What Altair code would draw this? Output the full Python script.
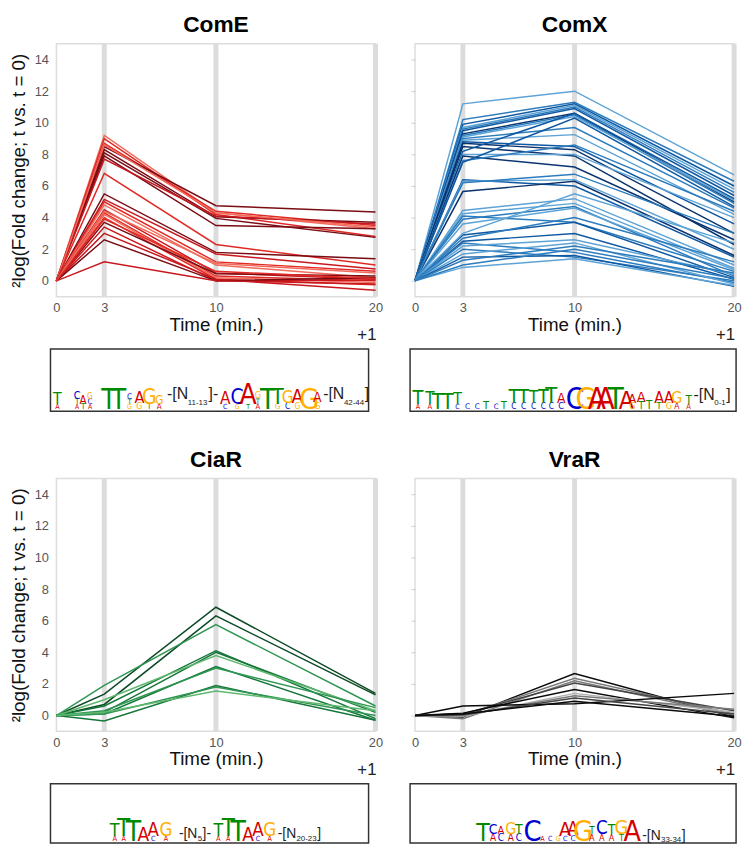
import altair as alt
import pandas as pd

FONT = "Liberation Sans"
LOGO_FONT = "Liberation Sans Narrow, DejaVu Sans Condensed, Liberation Sans"

# ---------------- data ----------------
times = [0, 3, 10, 20]
bar_times = [3, 10, 20]
x_ticks = [0, 3, 10, 20]
y_ticks = [0, 2, 4, 6, 8, 10, 12, 14]
y_title = "²log(Fold change; t vs. t = 0)"

# ComE
come_t3 = [9.2, 9.0, 8.7, 8.5, 8.3, 8.1, 7.9, 7.7, 8.6, 6.8, 5.5, 5.15, 5.0, 4.8, 4.5, 4.3, 4.2, 4.0, 3.7, 3.4, 3.0, 2.6, 1.2, 4.4, 3.9]
come_t10 = [4.3, 4.2, 4.4, 4.75, 4.05, 3.95, 3.5, 4.1, 4.3, 2.3, 1.8, 1.7, 1.2, 1.0, 0.5, 0.3, 0.2, 0.1, 0.45, 0.0, 0.1, 0.0, 0.0, 1.1, 0.6]
come_t20 = [3.3, 2.8, 3.5, 4.35, 3.7, 2.75, 3.3, 3.6, 3.4, 1.0, 1.4, 0.75, 0.6, 0.2, 0.1, 0.0, -0.1, -0.25, 0.3, 0.05, -0.6, 0.2, -0.2, 0.5, 0.15]
come_shade = [0, 1, 1, 3, 3, 3, 3, 2, 0, 1, 3, 2, 1, 0, 2, 1, 0, 1, 3, 2, 2, 3, 2, 0, 1]

# ComX
comx_t3 = [11.2, 10.2, 9.9, 9.7, 9.6, 9.5, 9.3, 9.2, 9.1, 9.0, 8.9, 8.8, 8.7, 8.5, 8.2, 8.0, 7.9, 7.6, 7.5, 6.4,
           6.3, 5.65, 6.2, 4.45, 4.25, 4.1, 3.9, 3.6, 2.9, 2.5, 2.4, 2.2, 2.0, 1.7, 1.5, 1.3, 0.85, 1.0, 3.0, 2.7]
comx_t10 = [12.0, 11.3, 11.2, 11.1, 11.0, 10.9, 10.6, 10.5, 10.4, 9.7, 9.25, 8.5, 8.3, 7.9, 10.6, 8.0, 7.2, 8.6, 10.3, 6.0,
            6.4, 6.3, 6.75, 5.2, 4.9, 3.7, 4.7, 4.6, 3.7, 3.0, 1.8, 2.6, 1.5, 2.4, 1.6, 2.2, 1.4, 2.0, 5.5, 4.0]
comx_t20 = [6.7, 6.3, 6.0, 5.8, 5.6, 5.4, 5.0, 4.9, 5.1, 4.6, 4.2, 3.6, 3.0, 2.3, 5.2, 4.0, 2.6, 4.4, 4.7, 1.5,
            2.0, 1.6, 3.0, 1.0, 0.8, 0.6, 0.3, 0.7, 0.2, 0.1, -0.1, 0.4, 0.0, -0.2, -0.35, 0.5, -0.3, 0.15, 2.4, 1.2]
comx_shade = [0, 1, 2, 0, 1, 2, 3, 1, 0, 1, 0, 2, 3, 3, 2, 0, 3, 1, 2, 2,
              0, 3, 1, 0, 0, 1, 1, 0, 2, 2, 1, 0, 1, 0, 2, 1, 0, 1, 0, 1]

# CiaR
ciar_t3 = [1.35, 0.7, 1.9, 0.6, 0.2, 1.0, 0.1, 0.3, -0.35, 0.1, 0.2]
ciar_t10 = [6.85, 6.3, 5.75, 4.1, 4.0, 3.8, 3.1, 3.0, 1.9, 1.8, 1.55]
ciar_t20 = [1.4, 1.3, 0.6, -0.2, 0.2, 0.3, -0.3, 0.5, -0.3, 0.0, 0.3]
ciar_shade = [3, 3, 1, 2, 2, 0, 2, 1, 2, 1, 0]

# VraR
vrar_t3 = [-0.1, 0.0, -0.2, 0.1, 0.15, -0.05, 0.0, 0.6, 0.05, 0.1]
vrar_t10 = [2.65, 2.35, 2.2, 2.05, 1.65, 1.4, 1.25, 0.75, 1.1, 0.9]
vrar_t20 = [-0.1, 0.1, 0.0, 0.3, -0.15, 0.2, 0.4, 1.4, 0.1, -0.05]
vrar_shade = [3, 1, 1, 2, 3, 0, 1, 3, 2, 3]

red_pal = ["#f26b5b", "#e02a25", "#c8181d", "#7a0c14"]
blue_pal = ["#5da3d6", "#2b7bbd", "#0f58a2", "#0b346e"]
green_pal = ["#5fb86f", "#2f9552", "#15763a", "#0b4a24"]
gray_pal = ["#b0b0b0", "#7a7a7a", "#444444", "#0a0a0a"]

letter_colors = {"A": "#d40000", "C": "#0000d0", "G": "#ffb000", "T": "#008a00"}

# Sequence logos: column position (px from box left), letter (bottom to top), information height (px)
come_col = [7, 7, 27, 27, 27, 33, 33, 40, 40, 40, 59, 69, 80, 80, 80, 90, 90, 100, 100, 110, 110,
            177, 177, 189, 189, 200, 200, 210, 210, 210, 220, 230, 230, 240, 240, 250, 250, 262, 270, 270]
come_let = ["A", "T", "A", "T", "C", "T", "A", "A", "C", "G", "T", "T", "G", "T", "C", "G", "A", "T", "G", "A", "G",
            "C", "A", "G", "C", "T", "A", "A", "T", "G", "T", "G", "T", "C", "G", "G", "A", "G", "G", "A"]
come_h = [3, 25, 2, 5, 12, 5, 14, 2, 5, 6, 55, 55, 3, 4, 5, 7, 26, 5, 38, 5, 16,
          3, 28, 3, 38, 2, 56, 4, 4, 8, 57, 5, 40, 6, 28, 6, 33, 58, 9, 20]
come_ann_x = [118, 139, 160, 276, 297, 318]
come_ann_t = ["-[N", "11-13", "]-", "-[N", "42-44", "]"]
come_ann_s = [16, 8, 16, 16, 8, 16]
come_ann_y = [12, 6, 12, 12, 6, 12]

comx_col = [8, 8, 20, 20, 28, 38, 48, 48, 58, 68, 77, 87, 95, 105, 105, 115, 115, 125, 125, 135, 135, 143, 143,
            153, 153, 167, 178, 189, 198, 208, 219, 225, 225, 234, 234, 242, 252, 252, 262, 262, 270, 270, 282, 282]
comx_let = ["A", "T", "A", "T", "T", "T", "C", "T", "C", "C", "T", "C", "T", "C", "T", "C", "T", "C", "T", "C", "T", "C", "T",
            "C", "A", "C", "G", "A", "A", "T", "A", "G", "A", "T", "A", "T", "T", "A", "G", "A", "A", "G", "A", "T"]
comx_h = [3, 35, 4, 28, 40, 40, 3, 25, 5, 5, 13, 4, 12, 6, 35, 6, 35, 6, 28, 6, 35, 6, 40,
          8, 20, 60, 60, 60, 60, 60, 48, 7, 18, 10, 22, 14, 8, 25, 8, 25, 6, 25, 4, 15]
comx_ann_x = [287, 308, 320]
comx_ann_t = ["-[N", "0-1", "]"]
comx_ann_s = [16, 8, 16]
comx_ann_y = [11, 6, 11]

ciar_col = [65, 65, 74, 74, 84, 94, 104, 104, 117, 117,
            170, 170, 180, 180, 190, 200, 210, 210, 222, 222]
ciar_let = ["A", "T", "A", "T", "T", "A", "C", "A", "A", "G",
            "A", "T", "A", "T", "T", "A", "C", "A", "A", "G"]
ciar_h = [4, 30, 3, 46, 56, 33, 3, 32, 3, 32,
          4, 30, 3, 46, 56, 33, 3, 32, 3, 32]
ciar_ann_x = [130, 149, 154, 230, 249, 270]
ciar_ann_t = ["-[N", "5", "]-", "-[N", "20-23", "]"]
ciar_ann_s = [14, 8, 14, 14, 8, 14]
ciar_ann_y = [5, 2, 5, 5, 2, 5]

vrar_col = [74, 84, 84, 92, 92, 102, 102, 110, 110, 124, 134, 142, 150, 157, 157, 165, 165, 175,
            184, 184, 194, 194, 204, 204, 214, 214, 225]
vrar_let = ["T", "A", "C", "C", "A", "A", "G", "C", "T", "C", "A", "C", "G", "C", "A", "C", "A", "G",
            "A", "T", "A", "C", "A", "T", "T", "G", "A"]
vrar_h = [48, 10, 20, 10, 13, 10, 25, 10, 20, 58, 3, 3, 3, 3, 35, 5, 32, 58,
          8, 10, 8, 32, 8, 20, 8, 35, 57]
vrar_ann_x = [235, 254, 275]
vrar_ann_t = ["-[N", "33-34", "]"]
vrar_ann_s = [14, 8, 14]
vrar_ann_y = [3, 1, 3]

# ---------------- layout ----------------
PW = 323
PH = 256


def plot_panel(title, t3, t10, t20, shade, palette, left):
    recs = []
    for i in range(len(t3)):
        for t, v in zip(times, [0.0, t3[i], t10[i], t20[i]]):
            recs.append({"series": i, "time": t, "value": v, "color": palette[shade[i]]})
    df = pd.DataFrame(recs)
    xs = alt.Scale(domain=[0, 20], nice=False, zero=False)
    ys = alt.Scale(domain=[-1, 15], nice=False, zero=False)
    xaxis = alt.Axis(values=x_ticks, title="Time (min.)", grid=False, domain=False, ticks=False,
                     labelFontSize=13, labelColor="#555555", labelPadding=5, labelFont=FONT,
                     titleFontSize=19, titleFontWeight="normal", titleColor="#111111", titlePadding=1,
                     titleFont=FONT, labelFlush=False)
    if left:
        yaxis = alt.Axis(values=y_ticks, title=y_title, grid=False, domain=False, ticks=False,
                         labelFontSize=13, labelColor="#555555", labelPadding=8, labelFont=FONT,
                         titleFontSize=19, titleFontWeight="normal", titleColor="#111111",
                         titlePadding=6, titleFont=FONT)
    else:
        yaxis = alt.Axis(values=y_ticks, title="", grid=False, domain=False, ticks=True,
                         tickSize=4, tickColor="#cccccc", labels=False)
    bars = alt.Chart(pd.DataFrame({"time": bar_times})).mark_rule(
        color="#dcdcdc", strokeWidth=5).encode(x=alt.X("time:Q", scale=xs, axis=xaxis))
    lines = alt.Chart(df).mark_line(strokeWidth=1.5).encode(
        x=alt.X("time:Q", scale=xs, axis=xaxis),
        y=alt.Y("value:Q", scale=ys, axis=yaxis),
        detail="series:N",
        color=alt.Color("color:N", scale=None),
    )
    plus = alt.Chart(pd.DataFrame({"t": ["+1"]})).mark_text(
        align="right", baseline="middle", fontSize=17, font=FONT, color="#222222"
    ).encode(text="t:N", x=alt.value(PW + 1), y=alt.value(PH + 39))
    return alt.layer(bars, lines, plus).properties(
        width=PW, height=PH,
        title=alt.TitleParams(title, fontSize=23, fontWeight="bold", font=FONT, anchor="middle",
                              offset=4, color="#000000"),
    )


def logo_panel(cols, lets, hs, ax, at, asz, ay, box_w, box_h, off, extra):
    df = pd.DataFrame({"col": cols, "letter": lets, "h": hs})
    df["fs"] = 6 + 0.4 * df["h"]
    df["hr"] = 0.72 * df["fs"]
    df["base"] = df.groupby("col")["hr"].cumsum() - df["hr"]
    df["y"] = df["base"] + 2
    df["color"] = df["letter"].map(letter_colors)
    xs = alt.Scale(domain=[off, off + PW], nice=False, zero=False)
    ys = alt.Scale(domain=[-extra, box_h], nice=False, zero=False)
    frame = alt.Chart(pd.DataFrame({"x0": [0], "x1": [box_w], "y0": [0], "y1": [box_h]})).mark_rect(
        fill="white", stroke="#333333", strokeWidth=1.5
    ).encode(x=alt.X("x0:Q", scale=xs, axis=None), x2="x1:Q",
             y=alt.Y("y0:Q", scale=ys, axis=None), y2="y1:Q")
    letters = alt.Chart(df).mark_text(baseline="alphabetic", align="center", font=LOGO_FONT).encode(
        x=alt.X("col:Q", scale=xs, axis=None),
        y=alt.Y("y:Q", scale=ys, axis=None),
        text="letter:N",
        size=alt.Size("fs:Q", scale=None),
        color=alt.Color("color:N", scale=None),
    )
    ann = alt.Chart(pd.DataFrame({"x": ax, "t": at, "s": asz, "y": ay})).mark_text(
        baseline="alphabetic", align="left", font=FONT, color="#222222"
    ).encode(
        x=alt.X("x:Q", scale=xs, axis=None),
        y=alt.Y("y:Q", scale=ys, axis=None),
        text="t:N",
        size=alt.Size("s:Q", scale=None),
    )
    return alt.layer(frame, letters, ann).properties(
        width=PW, height=box_h + extra, view=alt.ViewBackground(stroke="transparent"))


pE = plot_panel("ComE", come_t3, come_t10, come_t20, come_shade, red_pal, True)
pX = plot_panel("ComX", comx_t3, comx_t10, comx_t20, comx_shade, blue_pal, False)
pC = plot_panel("CiaR", ciar_t3, ciar_t10, ciar_t20, ciar_shade, green_pal, True)
pV = plot_panel("VraR", vrar_t3, vrar_t10, vrar_t20, vrar_shade, gray_pal, False)

lE = logo_panel(come_col, come_let, come_h, come_ann_x, come_ann_t, come_ann_s, come_ann_y, 322, 63, 6, 33)
lX = logo_panel(comx_col, comx_let, comx_h, comx_ann_x, comx_ann_t, comx_ann_s, comx_ann_y, 330, 63, 5, 33)
lC = logo_panel(ciar_col, ciar_let, ciar_h, ciar_ann_x, ciar_ann_t, ciar_ann_s, ciar_ann_y, 322, 60, 6, 0)
lV = logo_panel(vrar_col, vrar_let, vrar_h, vrar_ann_x, vrar_ann_t, vrar_ann_s, vrar_ann_y, 330, 60, 5, 0)

chart = alt.concat(
    pE, pX, lE, lX, pC, pV, lC, lV,
    columns=2,
    spacing={"row": 3, "column": 25},
    align="each",
    padding=0,
).configure_view(stroke="#dddddd", strokeWidth=1.5)

chart.save("out.html", embed_options={"renderer": "svg", "actions": False})
